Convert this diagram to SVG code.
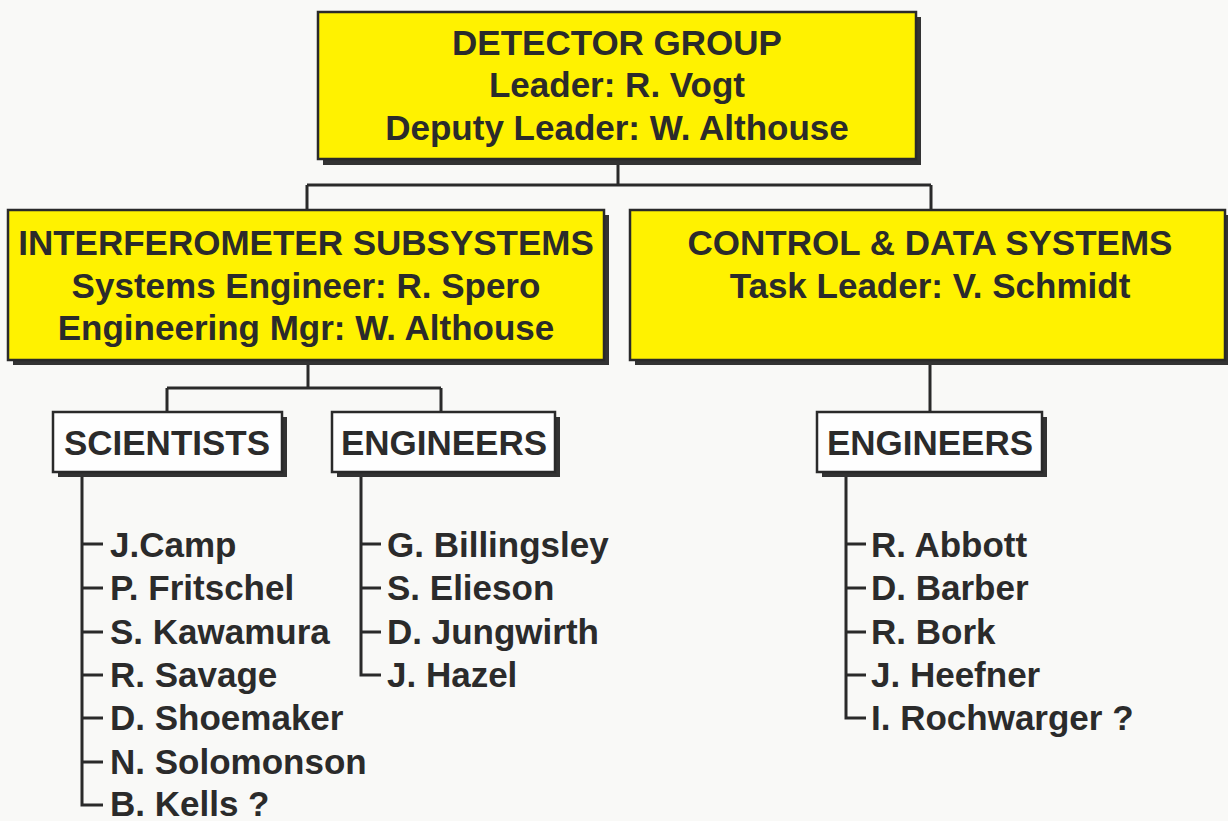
<svg xmlns="http://www.w3.org/2000/svg" width="1228" height="821" viewBox="0 0 1228 821">
<style>
.bg{fill:#f9f9f7}
.shadow{fill:#333}
.ybox{fill:#fff200;stroke:#2a2a2a;stroke-width:2.5}
.wbox{fill:#fefefe;stroke:#2a2a2a;stroke-width:2.5}
.t{font-family:"Liberation Sans",Arial,sans-serif;font-weight:bold;font-size:35px;fill:#2b2b2b}
.c{text-anchor:middle}
.ln{stroke:#2a2a2a;stroke-width:3;fill:none}
</style>
<rect class="bg" x="0" y="0" width="1228" height="821"/>
<g id="connectors">
<path class="ln" d="M618,160 V185 M307,185 H931 M307,185 V210 M931,185 V210"/>
<path class="ln" d="M308,360 V388 M167,388 H441 M167,388 V412 M441,388 V412 M930,360 V412"/>
<path class="ln" d="M82,472 V805 H103 M82,544 H103 M82,588 H103 M82,632 H103 M82,675 H103 M82,718 H103 M82,762 H103"/>
<path class="ln" d="M361,472 V675 H381 M361,544 H381 M361,588 H381 M361,632 H381"/>
<path class="ln" d="M846,472 V718 H866 M846,544 H866 M846,588 H866 M846,632 H866 M846,675 H866"/>
</g>
<g id="detector">
<rect class="shadow" x="323" y="17" width="598" height="148"/>
<rect class="ybox" x="318" y="12" width="598" height="147"/>
<text class="t c" x="617" y="55">DETECTOR GROUP</text>
<text class="t c" x="617" y="97">Leader: R. Vogt</text>
<text class="t c" x="617" y="140">Deputy Leader: W. Althouse</text>
</g>
<g id="interferometer">
<rect class="shadow" x="13" y="215" width="596" height="150"/>
<rect class="ybox" x="8" y="210" width="596" height="150"/>
<text class="t c" x="306" y="255">INTERFEROMETER SUBSYSTEMS</text>
<text class="t c" x="306" y="298">Systems Engineer: R. Spero</text>
<text class="t c" x="306" y="340">Engineering Mgr: W. Althouse</text>
</g>
<g id="control">
<rect class="shadow" x="635" y="215" width="595" height="150"/>
<rect class="ybox" x="630" y="210" width="595" height="150"/>
<text class="t c" x="930" y="255">CONTROL &amp; DATA SYSTEMS</text>
<text class="t c" x="930" y="298">Task Leader: V. Schmidt</text>
</g>
<g id="scientists">
<rect class="shadow" x="58" y="417" width="229" height="60"/>
<rect class="wbox" x="53" y="412" width="229" height="60"/>
<text class="t c" x="167" y="455">SCIENTISTS</text>
</g>
<g id="engineers-is">
<rect class="shadow" x="337" y="417" width="223" height="60"/>
<rect class="wbox" x="332" y="412" width="223" height="60"/>
<text class="t c" x="444" y="455">ENGINEERS</text>
</g>
<g id="engineers-cd">
<rect class="shadow" x="822" y="417" width="225" height="60"/>
<rect class="wbox" x="817" y="412" width="225" height="60"/>
<text class="t c" x="930" y="455">ENGINEERS</text>
</g>
<g id="scientists-list">
<text class="t" x="110" y="557">J.Camp</text>
<text class="t" x="110" y="600">P. Fritschel</text>
<text class="t" x="110" y="644">S. Kawamura</text>
<text class="t" x="110" y="687">R. Savage</text>
<text class="t" x="110" y="730">D. Shoemaker</text>
<text class="t" x="110" y="774">N. Solomonson</text>
<text class="t" x="110" y="816">B. Kells ?</text>
</g>
<g id="engineers-is-list">
<text class="t" x="387" y="557">G. Billingsley</text>
<text class="t" x="387" y="600">S. Elieson</text>
<text class="t" x="387" y="644">D. Jungwirth</text>
<text class="t" x="387" y="687">J. Hazel</text>
</g>
<g id="engineers-cd-list">
<text class="t" x="871" y="557">R. Abbott</text>
<text class="t" x="871" y="600">D. Barber</text>
<text class="t" x="871" y="644">R. Bork</text>
<text class="t" x="871" y="687">J. Heefner</text>
<text class="t" x="871" y="730">I. Rochwarger ?</text>
</g>
</svg>
